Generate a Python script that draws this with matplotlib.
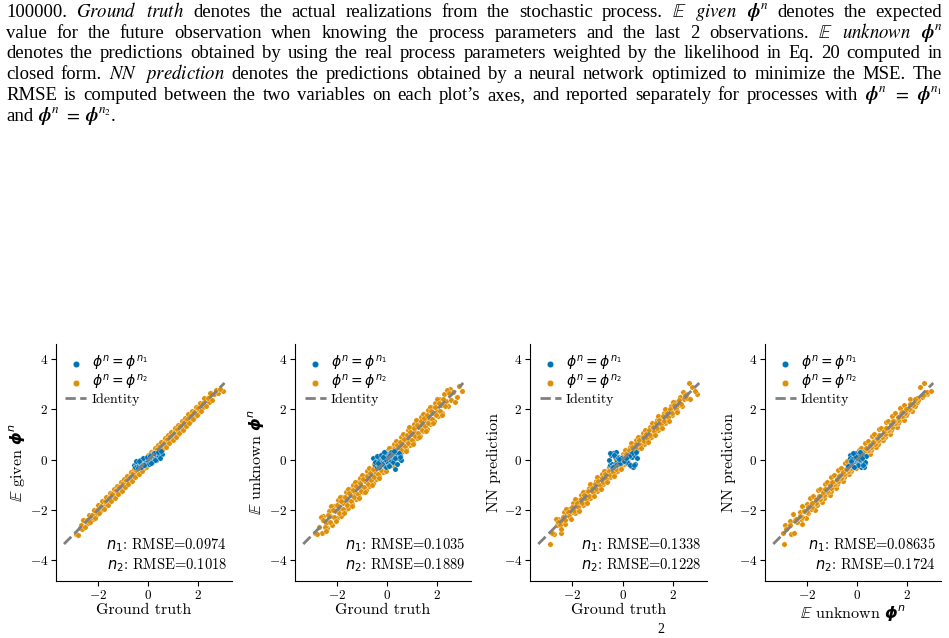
import matplotlib

matplotlib.use("Agg")
import matplotlib.pyplot as plt
import numpy as np

# processes with phi^n = phi^{n2} (orange)
gt_n2 = [-2.87, -2.71, -2.62, -2.55, -2.46, -2.41, -2.33, -2.28, -2.20, -2.14,
         -2.09, -2.02, -1.97, -1.91, -1.86, -1.80, -1.75, -1.70, -1.64, -1.59,
         -1.55, -1.49, -1.44, -1.40, -1.35, -1.30, -1.26, -1.21, -1.16, -1.12,
         -1.07, -1.03, -0.98, -0.94, -0.89, -0.85, -0.80, -0.76, -0.71, -0.67,
         -0.62, -0.58, -0.53, -0.49, -0.44, -0.40, -0.35, -0.31, -0.26, -0.22,
         -0.17, -0.13, -0.08, -0.04, 0.01, 0.05, 0.10, 0.14, 0.19, 0.23,
         0.28, 0.32, 0.37, 0.41, 0.46, 0.50, 0.55, 0.59, 0.64, 0.68,
         0.73, 0.77, 0.82, 0.86, 0.91, 0.95, 1.00, 1.04, 1.09, 1.13,
         1.18, 1.22, 1.27, 1.31, 1.36, 1.40, 1.45, 1.49, 1.54, 1.58,
         1.63, 1.67, 1.72, 1.77, 1.82, 1.87, 1.92, 1.98, 2.03, 2.09,
         2.15, 2.21, 2.28, 2.35, 2.43, 2.52, 2.63, 2.78, 2.98,
         -2.79, -2.66, -2.58, -2.50, -2.44, -2.37, -2.30, -2.24, -2.17, -2.11,
         -2.05, -1.99, -1.94, -1.88, -1.83, -1.77, -1.72, -1.67, -1.61, -1.57,
         -1.52, -1.46, -1.42, -1.37, -1.32, -1.28, -1.23, -1.18, -1.14, -1.09,
         -1.05, -1.00, -0.96, -0.91, -0.87, -0.82, -0.78, -0.73, -0.69, -0.64,
         -0.60, -0.55, -0.51, -0.46, -0.42, -0.37, -0.33, -0.28, -0.24, -0.19,
         -0.15, -0.10, -0.06, -0.01, 0.03, 0.08, 0.12, 0.17, 0.21, 0.26,
         0.30, 0.35, 0.39, 0.44, 0.48, 0.53, 0.57, 0.62, 0.66, 0.71,
         0.75, 0.80, 0.84, 0.89, 0.93, 0.98, 1.02, 1.07, 1.11, 1.16,
         1.20, 1.25, 1.29, 1.34, 1.38, 1.43, 1.47, 1.52, 1.56, 1.61,
         1.65, 1.70, 1.75, 1.80, 1.85, 1.90, 1.95, 2.01, 2.06, 2.12,
         2.18, 2.25, 2.31, 2.39, 2.47, 2.57, 2.70, 2.88]
given_n2 = [-2.97, -2.70, -2.77, -2.41, -2.49, -2.52, -2.23, -2.27, -2.35, -2.00,
            -2.12, -2.14, -1.87, -1.90, -2.00, -1.66, -1.78, -1.84, -1.53, -1.58,
            -1.69, -1.36, -1.47, -1.52, -1.24, -1.29, -1.40, -1.08, -1.19, -1.25,
            -0.95, -1.02, -1.12, -0.81, -0.92, -0.97, -0.69, -0.75, -0.85, -0.54,
            -0.65, -0.70, -0.42, -0.48, -0.58, -0.27, -0.38, -0.43, -0.15, -0.21,
            -0.31, 0.00, -0.11, -0.16, 0.12, 0.06, -0.04, 0.27, 0.16, 0.11,
            0.39, 0.33, 0.23, 0.54, 0.43, 0.38, 0.66, 0.60, 0.50, 0.81,
            0.70, 0.65, 0.93, 0.87, 0.77, 1.08, 0.97, 0.92, 1.20, 1.14,
            1.04, 1.35, 1.24, 1.19, 1.47, 1.41, 1.31, 1.62, 1.51, 1.46,
            1.74, 1.68, 1.58, 1.90, 1.79, 1.75, 2.03, 1.99, 1.89, 2.22,
            2.12, 2.09, 2.39, 2.36, 2.29, 2.64, 2.60, 2.66, 2.72,
            -2.98, -2.60, -2.39, -2.69, -2.38, -2.18, -2.49, -2.18, -1.98, -2.30,
            -1.99, -1.80, -2.13, -1.82, -1.64, -1.96, -1.66, -1.48, -1.80, -1.51,
            -1.33, -1.65, -1.36, -1.18, -1.51, -1.22, -1.04, -1.37, -1.08, -0.90,
            -1.24, -0.94, -0.77, -1.10, -0.81, -0.63, -0.97, -0.67, -0.50, -0.83,
            -0.54, -0.36, -0.70, -0.40, -0.23, -0.56, -0.27, -0.09, -0.43, -0.13,
            0.04, -0.29, 0.00, 0.18, -0.16, 0.14, 0.31, -0.02, 0.27, 0.45,
            0.11, 0.41, 0.58, 0.25, 0.54, 0.72, 0.38, 0.68, 0.85, 0.52,
            0.81, 0.99, 0.65, 0.95, 1.12, 0.79, 1.08, 1.26, 0.92, 1.22,
            1.39, 1.06, 1.35, 1.53, 1.19, 1.49, 1.66, 1.33, 1.62, 1.80,
            1.46, 1.76, 1.94, 1.61, 1.91, 2.09, 1.76, 2.07, 2.25, 1.93,
            2.24, 2.44, 2.12, 2.45, 2.66, 2.38, 2.76, 2.80]
unknown_n2 = [-2.92, -2.66, -2.90, -2.25, -2.52, -2.70, -2.04, -2.22, -2.58, -1.85,
              -2.04, -2.30, -1.60, -1.96, -2.22, -1.49, -1.70, -2.01, -1.28, -1.62,
              -1.90, -1.18, -1.40, -1.76, -0.99, -1.33, -1.57, -0.90, -1.10, -1.48,
              -0.72, -1.06, -1.30, -0.63, -0.84, -1.20, -0.44, -0.79, -1.03, -0.36,
              -0.58, -0.93, -0.17, -0.52, -0.76, -0.08, -0.31, -0.66, 0.10, -0.25,
              -0.48, 0.18, -0.04, -0.40, 0.36, 0.01, -0.21, 0.45, 0.23, -0.12,
              0.63, 0.29, 0.06, 0.72, 0.50, 0.15, 0.90, 0.56, 0.33, 0.99,
              0.77, 0.42, 1.17, 0.83, 0.60, 1.26, 1.04, 0.69, 1.44, 1.10,
              0.87, 1.53, 1.31, 0.96, 1.71, 1.37, 1.14, 1.80, 1.58, 1.23,
              1.98, 1.64, 1.41, 2.08, 1.86, 1.52, 2.27, 1.95, 1.72, 2.40,
              2.19, 1.86, 2.60, 2.32, 2.12, 2.80, 2.68, 2.50, 2.72,
              -2.97, -2.26, -2.40, -2.68, -2.84, -2.19, -2.48, -1.84, -1.99, -2.29,
              -2.45, -1.81, -2.12, -1.48, -1.65, -1.95, -2.12, -1.49, -1.79, -1.17,
              -1.34, -1.64, -1.82, -1.19, -1.50, -0.88, -1.05, -1.36, -1.54, -0.91,
              -1.23, -0.60, -0.78, -1.09, -1.27, -0.64, -0.96, -0.33, -0.51, -0.82,
              -1.00, -0.37, -0.69, -0.06, -0.24, -0.55, -0.73, -0.10, -0.42, 0.21,
              0.03, -0.28, -0.46, 0.17, -0.15, 0.48, 0.30, -0.01, -0.19, 0.44,
              0.12, 0.75, 0.57, 0.26, 0.08, 0.71, 0.39, 1.02, 0.84, 0.53,
              0.35, 0.98, 0.66, 1.29, 1.11, 0.80, 0.62, 1.25, 0.93, 1.56,
              1.38, 1.07, 0.89, 1.52, 1.20, 1.83, 1.65, 1.34, 1.16, 1.79,
              1.47, 2.10, 1.93, 1.62, 1.45, 2.08, 1.77, 2.41, 2.24, 1.94,
              1.78, 2.43, 2.13, 2.79, 2.65, 2.39, 2.30, 2.95]
nn_n2 = [-3.35, -2.95, -2.58, -2.36, -2.90, -2.45, -2.08, -2.55, -2.16, -1.94,
         -2.33, -2.07, -1.72, -2.12, -1.83, -1.61, -1.99, -1.74, -1.40, -1.79,
         -1.52, -1.29, -1.68, -1.43, -1.12, -1.51, -1.22, -1.01, -1.40, -1.15,
         -0.84, -1.24, -0.96, -0.73, -1.12, -0.88, -0.57, -0.97, -0.68, -0.46,
         -0.85, -0.61, -0.30, -0.70, -0.42, -0.19, -0.58, -0.33, -0.03, -0.43,
         -0.14, 0.08, -0.31, -0.07, 0.22, -0.16, 0.13, 0.37, -0.04, 0.20,
         0.49, 0.11, 0.40, 0.62, 0.23, 0.47, 0.78, 0.37, 0.66, 0.89,
         0.51, 0.74, 1.05, 0.64, 0.94, 1.16, 0.77, 1.01, 1.32, 0.91,
         1.21, 1.43, 1.04, 1.28, 1.59, 1.18, 1.48, 1.70, 1.31, 1.55,
         1.86, 1.45, 1.75, 1.98, 1.59, 1.84, 2.15, 1.76, 2.06, 2.30,
         1.93, 2.18, 2.50, 2.12, 2.40, 2.62, 3.05, 2.90, 2.60,
         -2.90, -2.36, -2.47, -2.61, -2.74, -2.26, -2.41, -1.94, -2.06, -2.22,
         -2.35, -1.88, -2.05, -1.58, -1.72, -1.88, -2.02, -1.56, -1.72, -1.27,
         -1.41, -1.57, -1.72, -1.26, -1.43, -0.98, -1.12, -1.29, -1.44, -0.98,
         -1.16, -0.70, -0.85, -1.02, -1.17, -0.71, -0.89, -0.43, -0.58, -0.75,
         -0.90, -0.44, -0.62, -0.16, -0.31, -0.48, -0.63, -0.17, -0.35, 0.11,
         -0.04, -0.21, -0.36, 0.10, -0.08, 0.38, 0.23, 0.06, -0.09, 0.37,
         0.19, 0.65, 0.50, 0.33, 0.18, 0.64, 0.46, 0.92, 0.77, 0.60,
         0.45, 0.91, 0.73, 1.19, 1.04, 0.87, 0.72, 1.18, 1.00, 1.46,
         1.31, 1.14, 0.99, 1.45, 1.27, 1.73, 1.58, 1.41, 1.26, 1.72,
         1.54, 2.00, 1.86, 1.69, 1.55, 2.01, 1.84, 2.31, 2.17, 2.01,
         1.88, 2.36, 2.20, 2.69, 2.58, 2.46, 2.40, 2.75]

# processes with phi^n = phi^{n1} (blue)
gt_n1 = [-0.55, -0.50, -0.46, -0.42, -0.38, -0.35, -0.31, -0.28, -0.24, -0.21,
         -0.17, -0.14, -0.10, -0.07, -0.03, 0.01, 0.04, 0.08, 0.11, 0.15,
         0.18, 0.22, 0.26, 0.29, 0.33, 0.37, 0.41, 0.45, 0.50, 0.56,
         -0.48, -0.40, -0.33, -0.26, -0.19, -0.12, -0.05, 0.02, 0.09, 0.16,
         0.23, 0.30, 0.38, 0.46, 0.52, -0.15, 0.06, 0.27, -0.36, 0.12]
given_n1 = [-0.20, -0.30, -0.14, -0.25, -0.10, -0.22, -0.08, -0.18, -0.02, -0.15,
            0.00, -0.12, 0.03, -0.08, 0.06, -0.05, 0.10, -0.02, 0.14, 0.02,
            0.18, 0.05, 0.22, 0.08, 0.25, 0.12, 0.28, 0.15, 0.30, 0.22,
            -0.05, -0.32, 0.00, -0.28, 0.05, -0.20, 0.12, -0.15, 0.20, -0.08,
            0.25, 0.00, 0.32, 0.05, 0.35, -0.20, 0.15, -0.02, -0.05, -0.12]
unknown_n1 = [0.05, -0.22, -0.05, -0.30, 0.10, -0.15, -0.02, -0.25, 0.12, -0.10,
              0.05, -0.20, 0.18, -0.05, 0.00, 0.22, -0.12, 0.08, 0.25, -0.05,
              0.15, 0.30, 0.02, 0.20, -0.35, 0.10, 0.28, 0.05, 0.18, 0.00,
              -0.10, 0.15, -0.28, 0.20, -0.18, 0.30, -0.30, 0.10, -0.20, 0.32,
              -0.08, 0.05, -0.15, 0.25, 0.12, 0.10, -0.25, 0.35, -0.12, 0.20]
nn_n1 = [0.00, -0.22, 0.20, -0.15, 0.28, -0.25, 0.10, -0.18, 0.30, -0.05,
         0.12, -0.10, 0.05, -0.02, 0.03, -0.04, 0.02, 0.06, -0.06, 0.10,
         -0.12, 0.15, -0.18, 0.22, -0.25, 0.12, -0.30, 0.20, -0.15, 0.05,
         0.25, -0.28, 0.18, -0.20, 0.08, -0.12, 0.06, -0.03, 0.04, -0.10,
         0.14, -0.20, 0.25, -0.22, 0.32, 0.02, -0.05, 0.15, -0.30, 0.08]

rmse_n1 = ["0.0974", "0.1035", "0.1338", "0.08635"]
rmse_n2 = ["0.1018", "0.1889", "0.1228", "0.1724"]

caption = [
    r"100000. $\mathit{Ground}$ $\mathit{truth}$ denotes the actual realizations from the stochastic process."
    r" $\mathbb{E}$ $\mathit{given}$ $\boldsymbol{\phi}^n$ denotes the expected",
    r"value for the future observation when knowing the process parameters and the last 2 observations."
    r" $\mathbb{E}$ $\mathit{unknown}$ $\boldsymbol{\phi}^n$",
    r"denotes the predictions obtained by using the real process parameters weighted by the likelihood"
    r" in Eq. 20 computed in",
    r"closed form. $\mathit{NN}$ $\mathit{prediction}$ denotes the predictions obtained by a neural network"
    r" optimized to minimize the MSE. The",
    r"RMSE is computed between the two variables on each plot’s axes, and reported separately for"
    r" processes with $\boldsymbol{\phi}^n$ $=$ $\boldsymbol{\phi}^{n_1}$",
    r"and $\boldsymbol{\phi}^n$ $=$ $\boldsymbol{\phi}^{n_2}$.",
]

BLUE = "#0173b2"
ORANGE = "#de8f05"
W, H = 949, 638

plt.rcParams["font.family"] = "cmr10"
plt.rcParams["mathtext.fontset"] = "cm"
plt.rcParams["axes.formatter.use_mathtext"] = True

fig = plt.figure(figsize=(W / 100, H / 100), dpi=100)
renderer = fig.canvas.get_renderer()

# caption, fully justified like the paper page
cap_size = 13.5
for i, line in enumerate(caption):
    words = line.split(" ")
    y = 1 - (16.7 + 20.8 * i) / H
    txts = [fig.text(0, y, w, fontsize=cap_size, family="Liberation Serif",
                     math_fontfamily="stix", va="baseline") for w in words]
    widths = [t.get_window_extent(renderer).width for t in txts]
    x0, x1 = 6, 942
    gap = cap_size * 0.25 * 100 / 72
    if i < len(caption) - 1:
        gap = (x1 - x0 - sum(widths)) / (len(words) - 1)
    x = x0
    for t, w in zip(txts, widths):
        t.set_x(x / W)
        x += w + gap

dpx = r"$\mathbb{E}$ given $\boldsymbol{\phi}^n$"
upx = r"$\mathbb{E}$ unknown $\boldsymbol{\phi}^n$"
panels = [
    (gt_n1, given_n1, gt_n2, given_n2, "Ground truth", dpx),
    (gt_n1, unknown_n1, gt_n2, unknown_n2, "Ground truth", upx),
    (gt_n1, nn_n1, gt_n2, nn_n2, "Ground truth", "NN prediction"),
    (unknown_n1, nn_n1, unknown_n2, nn_n2, upx, "NN prediction"),
]
boxes = [(55.7, 232.3), (295, 471), (530, 707), (765, 941)]

allv = np.concatenate([gt_n1, given_n1, unknown_n1, nn_n1, gt_n2, given_n2, unknown_n2, nn_n2])
lo, hi = allv.min(), allv.max()

for k, ((x1d, y1d, x2d, y2d, xl, yl), (l, r)) in enumerate(zip(panels, boxes)):
    ax = fig.add_axes([l / W, (H - 581) / H, (r - l) / W, 237 / H])
    ax.scatter(x2d, y2d, s=15, color=ORANGE, edgecolor="white", linewidth=0.25,
               label=r"$\phi^n = \phi^{n_2}$", zorder=2)
    ax.scatter(x1d, y1d, s=15, color=BLUE, edgecolor="white", linewidth=0.25,
               label=r"$\phi^n = \phi^{n_1}$", zorder=3)
    ax.plot([lo, hi], [lo, hi], ls="--", color="gray", lw=2, label="Identity", zorder=4)
    ax.set_xlim(-3.68, 3.36)
    ax.set_ylim(-4.82, 4.6)
    ax.set_xticks([-2, 0, 2])
    ax.set_yticks([-4, -2, 0, 2, 4])
    for s in ("top", "right"):
        ax.spines[s].set_visible(False)
    ax.tick_params(direction="out", length=3.5, width=0.8, labelsize=9.5, pad=2)
    ax.set_xlabel(xl, fontsize=11.5, labelpad=1, math_fontfamily="dejavusans")
    ax.set_ylabel(yl, fontsize=11.5, labelpad=2, math_fontfamily="dejavusans")
    ax.text(0.97, 0.03,
            r"$n_1$: RMSE=" + rmse_n1[k] + "\n" + r"$n_2$: RMSE=" + rmse_n2[k],
            transform=ax.transAxes, ha="right", va="bottom", fontsize=10.5,
            math_fontfamily="dejavusans", linespacing=1.2)
    h, lab = ax.get_legend_handles_labels()
    leg = ax.legend([h[1], h[0], h[2]], [lab[1], lab[0], lab[2]], loc="upper left",
                    frameon=False, fontsize=10, handlelength=1.5, handletextpad=0.4,
                    borderaxespad=0.3, labelspacing=0.05, markerscale=1.2,
                    bbox_to_anchor=(0.0, 1.0))
    for t in leg.get_texts():
        t.set_math_fontfamily("dejavusans")

fig.text(661 / W, 1 - 636 / H, "2", fontsize=10, family="Liberation Serif", ha="center", va="bottom")

fig.savefig("out.png", dpi=100)
